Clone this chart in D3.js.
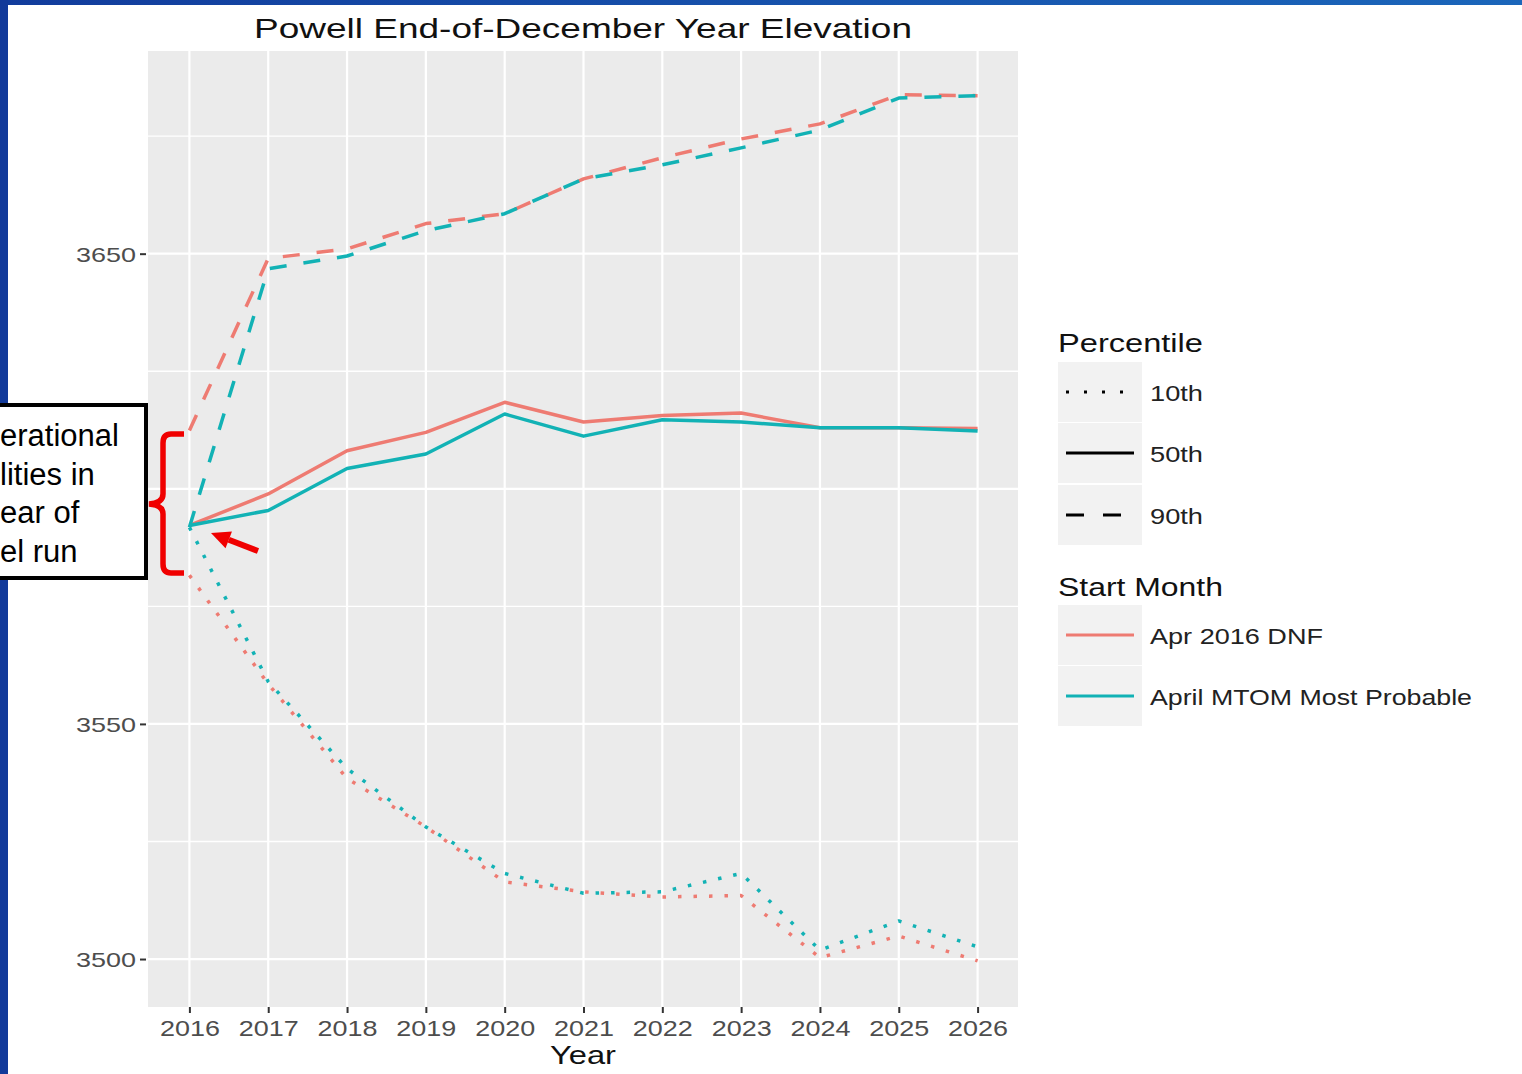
<!DOCTYPE html>
<html>
<head>
<meta charset="utf-8">
<script src="https://cdn.jsdelivr.net/npm/d3@7"></script>
<style>
  html, body { margin: 0; padding: 0; background: #fff; }
  svg { display: block; }
  text { font-family: "Liberation Sans", Arial, sans-serif; }
</style>
</head>
<body>
<svg id="chart" width="1522" height="1074"></svg>
<script>
// ---------------- data ----------------
const years = [2016, 2017, 2018, 2019, 2020, 2021, 2022, 2023, 2024, 2025, 2026];
const dnf10  = [3581.6, 3558.5, 3538.4, 3528.1, 3516.4, 3514.3, 3513.2, 3513.5, 3500.3, 3504.9, 3499.6];
const mtom10 = [3591.8, 3559.0, 3540.5, 3528.1, 3518.2, 3514.0, 3514.3, 3518.2, 3501.9, 3508.1, 3502.6];
const dnf50  = [3592.2, 3598.9, 3608.1, 3612.0, 3618.4, 3614.2, 3615.6, 3616.1, 3613.0, 3613.0, 3612.8];
const mtom50 = [3592.2, 3595.4, 3604.3, 3607.4, 3615.9, 3611.2, 3614.7, 3614.2, 3613.0, 3613.0, 3612.3];
const dnf90  = [3612.4, 3649.0, 3651.0, 3656.4, 3658.5, 3665.9, 3670.4, 3674.4, 3677.6, 3683.8, 3683.6];
const mtom90 = [3591.8, 3646.8, 3649.5, 3654.9, 3658.5, 3665.9, 3668.9, 3672.5, 3676.3, 3683.1, 3683.6];
const yGrid = [3500, 3550, 3600, 3650];
const yTickLabels = [3500, 3550, 3650]; // 3600 is hidden behind the note box in the reference
const yMinor = [3525, 3575, 3625, 3675];
const percentiles = ["10th", "50th", "90th"];
const startMonths = ["Apr 2016 DNF", "April MTOM Most Probable"];
const titleText = "Powell End-of-December Year Elevation";
const noteLines = ["erational", "lities in", "ear of", "el run"];

// ---------------- styling ----------------
const colors = { "Apr 2016 DNF": "#EE7B72", "April MTOM Most Probable": "#12B2B5" };
const dashes = { "10th": "3.5,12", "50th": null, "90th": "17,17" };

const svg = d3.select("#chart");

// slide background bars
const grad = svg.append("defs").append("linearGradient").attr("id", "topbar")
  .attr("x1", "0").attr("x2", "1").attr("y1", "0").attr("y2", "0");
grad.append("stop").attr("offset", "0").attr("stop-color", "#123C9C");
grad.append("stop").attr("offset", "1").attr("stop-color", "#1B66BA");
svg.append("rect").attr("x", 0).attr("y", 0).attr("width", 1522).attr("height", 5).attr("fill", "url(#topbar)");
svg.append("rect").attr("x", 0).attr("y", 0).attr("width", 8).attr("height", 1074).attr("fill", "#123A9A");

// panel
const P = { left: 148, right: 1018, top: 51, bottom: 1007 };
const x = d3.scaleLinear().domain([2015.5, 2026.5]).range([150, 1017]);
const y = d3.scaleLinear().domain([3489.8, 3693.1]).range([P.bottom, P.top]);

svg.append("rect").attr("x", P.left).attr("y", P.top)
  .attr("width", P.right - P.left).attr("height", P.bottom - P.top).attr("fill", "#EBEBEB");

const grid = svg.append("g");
grid.selectAll(".minor").data(yMinor).join("line")
  .attr("x1", P.left).attr("x2", P.right).attr("y1", d => y(d)).attr("y2", d => y(d))
  .attr("stroke", "#fff").attr("stroke-width", 1.3);
grid.selectAll(".majy").data(yGrid).join("line")
  .attr("x1", P.left).attr("x2", P.right).attr("y1", d => y(d)).attr("y2", d => y(d))
  .attr("stroke", "#fff").attr("stroke-width", 2.2);
grid.selectAll(".majx").data(years).join("line")
  .attr("x1", d => x(d)).attr("x2", d => x(d)).attr("y1", P.top).attr("y2", P.bottom)
  .attr("stroke", "#fff").attr("stroke-width", 2.2);

// axes
const yAxis = d3.axisLeft(y).tickValues(yTickLabels).tickSize(6).tickPadding(4).tickFormat(d3.format("d"));
const gy = svg.append("g").attr("transform", `translate(${P.left - 2},0)`).call(yAxis);
gy.select(".domain").remove();
gy.selectAll(".tick line").attr("stroke", "#333").attr("stroke-width", 2);
gy.selectAll(".tick text").attr("fill", "#4D4D4D").attr("font-size", 21)
  .attr("textLength", 60).attr("lengthAdjust", "spacingAndGlyphs")
  .attr("x", -10).attr("dy", "0.36em");

const xAxis = d3.axisBottom(x).tickValues(years).tickSize(6).tickPadding(4).tickFormat(d3.format("d"));
const gx = svg.append("g").attr("transform", `translate(0,${P.bottom})`).call(xAxis);
gx.select(".domain").remove();
gx.selectAll(".tick line").attr("stroke", "#333").attr("stroke-width", 2);
gx.selectAll(".tick text").attr("fill", "#4D4D4D").attr("font-size", 22)
  .attr("textLength", 60).attr("lengthAdjust", "spacingAndGlyphs")
  .attr("y", 29).attr("dy", 0);

// series
const series = [
  { start: "Apr 2016 DNF", pct: "10th", values: dnf10 },
  { start: "Apr 2016 DNF", pct: "50th", values: dnf50 },
  { start: "Apr 2016 DNF", pct: "90th", values: dnf90 },
  { start: "April MTOM Most Probable", pct: "10th", values: mtom10 },
  { start: "April MTOM Most Probable", pct: "50th", values: mtom50 },
  { start: "April MTOM Most Probable", pct: "90th", values: mtom90 }
];
const line = d3.line().x((d, i) => x(years[i])).y(d => y(d));
svg.append("g").selectAll("path").data(series).join("path")
  .attr("d", d => line(d.values))
  .attr("fill", "none")
  .attr("stroke", d => colors[d.start])
  .attr("stroke-width", 3.5)
  .attr("stroke-dasharray", d => dashes[d.pct])
  .attr("stroke-linecap", "butt")
  .attr("stroke-linejoin", "round");

// title & axis title
svg.append("text").attr("x", 254).attr("y", 38).attr("font-size", 28).attr("fill", "#111")
  .attr("textLength", 658).attr("lengthAdjust", "spacingAndGlyphs").text(titleText);
svg.append("text").attr("x", 550).attr("y", 1064).attr("font-size", 25).attr("fill", "#111")
  .attr("textLength", 66).attr("lengthAdjust", "spacingAndGlyphs").text("Year");

// legend
const L = svg.append("g");
function legendTitle(txt, yb, w) {
  L.append("text").attr("x", 1058).attr("y", yb).attr("font-size", 25).attr("fill", "#111")
    .attr("textLength", w).attr("lengthAdjust", "spacingAndGlyphs").text(txt);
}
legendTitle("Percentile", 352, 145);
const pctKeyTop = [362, 423, 485];
const pctLabelW = [53, 53, 53];
percentiles.forEach((p, i) => {
  const t = pctKeyTop[i];
  L.append("rect").attr("x", 1058).attr("y", t).attr("width", 84).attr("height", 60).attr("fill", "#F2F2F2");
  const cy = t + 30;
  L.append("line").attr("x1", 1066).attr("x2", 1134).attr("y1", cy).attr("y2", cy)
    .attr("stroke", "#000").attr("stroke-width", 3).attr("stroke-dasharray", p === "10th" ? "3,15" : (p === "90th" ? "18,19" : null));
  L.append("text").attr("x", 1150).attr("y", cy + 9).attr("font-size", 22).attr("fill", "#222")
    .attr("textLength", pctLabelW[i]).attr("lengthAdjust", "spacingAndGlyphs").text(p);
});
legendTitle("Start Month", 596, 165);
const smKeyTop = [605, 666];
const smLabelW = [173, 322];
startMonths.forEach((s, i) => {
  const t = smKeyTop[i];
  L.append("rect").attr("x", 1058).attr("y", t).attr("width", 84).attr("height", 60).attr("fill", "#F2F2F2");
  const cy = t + 30;
  L.append("line").attr("x1", 1066).attr("x2", 1134).attr("y1", cy).attr("y2", cy)
    .attr("stroke", colors[s]).attr("stroke-width", 3);
  L.append("text").attr("x", 1150).attr("y", cy + 9).attr("font-size", 22).attr("fill", "#222")
    .attr("textLength", smLabelW[i]).attr("lengthAdjust", "spacingAndGlyphs").text(s);
});

// annotation box
const A = svg.append("g");
A.append("rect").attr("x", -5).attr("y", 405).attr("width", 151).attr("height", 173)
  .attr("fill", "#fff").attr("stroke", "#000").attr("stroke-width", 4);
noteLines.forEach((t, i) => {
  A.append("text").attr("x", 0).attr("y", 446 + i * 38.6).attr("font-size", 31).attr("fill", "#000").text(t);
});
// red brace
A.append("path")
  .attr("d", "M184,434 L171,434 Q163,434 163,443 L163,494 Q163,503 149,504 Q163,505 163,514 L163,564 Q163,573 171,573 L184,573")
  .attr("fill", "none").attr("stroke", "#F00000").attr("stroke-width", 5.5);
// red arrow
const tip = [211, 533], tail = [258, 551];
const dx = tail[0] - tip[0], dy = tail[1] - tip[1], len = Math.hypot(dx, dy);
const ux = dx / len, uy = dy / len, px = -uy, py = ux;
const hl = 19, hw = 9;
const base = [tip[0] + ux * hl, tip[1] + uy * hl];
A.append("line").attr("x1", base[0]).attr("y1", base[1]).attr("x2", tail[0]).attr("y2", tail[1])
  .attr("stroke", "#F00000").attr("stroke-width", 6);
A.append("path")
  .attr("d", `M${tip[0]},${tip[1]} L${base[0] + px * hw},${base[1] + py * hw} L${base[0] - px * hw},${base[1] - py * hw} Z`)
  .attr("fill", "#F00000");
</script>
</body>
</html>
